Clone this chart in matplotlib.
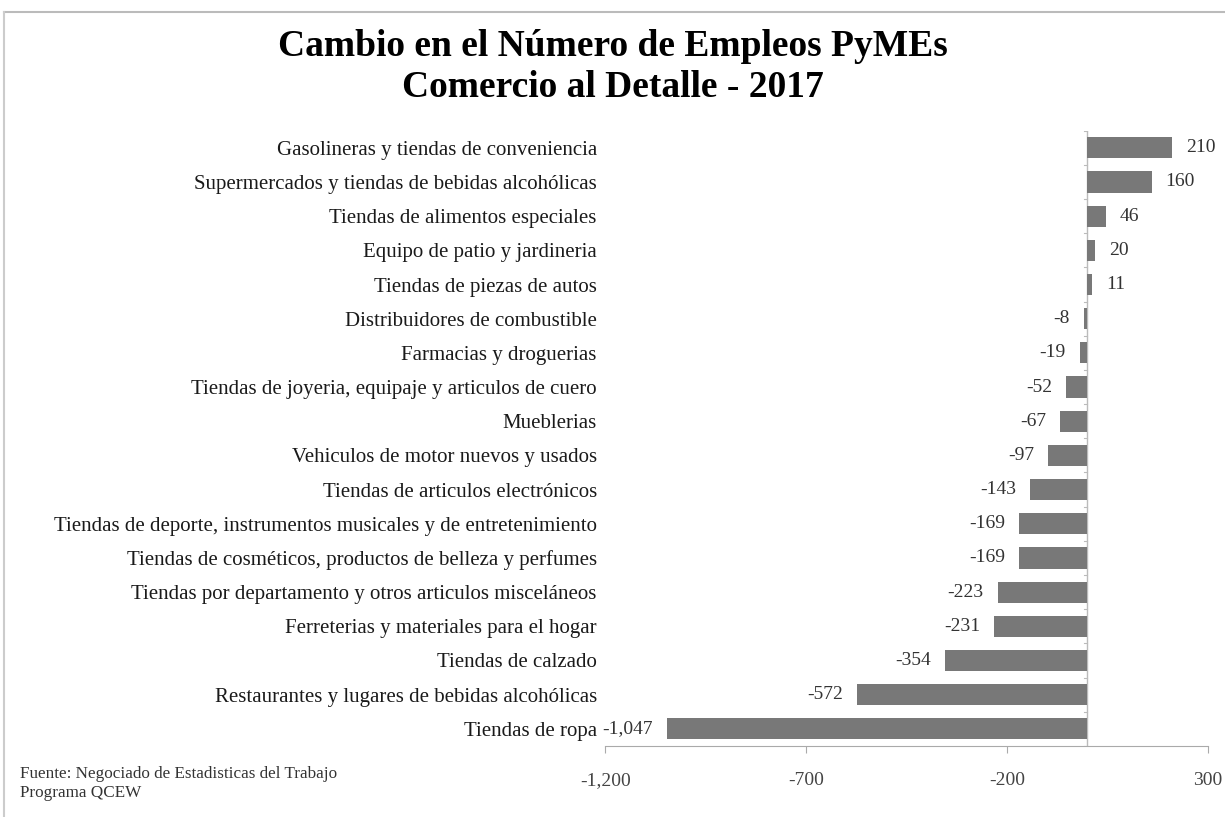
import matplotlib
matplotlib.use("Agg")
import matplotlib.pyplot as plt
from matplotlib.ticker import FuncFormatter

categories = [
    "Gasolineras y tiendas de conveniencia",
    "Supermercados y tiendas de bebidas alcohólicas",
    "Tiendas de alimentos especiales",
    "Equipo de patio y jardineria",
    "Tiendas de piezas de autos",
    "Distribuidores de combustible",
    "Farmacias y droguerias",
    "Tiendas de joyeria, equipaje y articulos de cuero",
    "Mueblerias",
    "Vehiculos de motor nuevos y usados",
    "Tiendas de articulos electrónicos",
    "Tiendas de deporte, instrumentos musicales y de entretenimiento",
    "Tiendas de cosméticos, productos de belleza y perfumes",
    "Tiendas por departamento y otros articulos misceláneos",
    "Ferreterias y materiales para el hogar",
    "Tiendas de calzado",
    "Restaurantes y lugares de bebidas alcohólicas",
    "Tiendas de ropa",
]
values = [210, 160, 46, 20, 11, -8, -19, -52, -67, -97, -143, -169, -169,
          -223, -231, -354, -572, -1047]
x_ticks = [-1200, -700, -200, 300]

title = "Cambio en el Número de Empleos PyMEs\nComercio al Detalle - 2017"
source = "Fuente: Negociado de Estadisticas del Trabajo\nPrograma QCEW"

plt.rcParams['font.family'] = ['Liberation Serif', 'DejaVu Serif']

fig = plt.figure(figsize=(12.25, 8.17), dpi=100)
ax = fig.add_axes([0.494, 0.087, 0.492, 0.753])

ypos = list(range(len(categories)))
bar_color = "#787878"
ax.barh(ypos, values, height=0.62, color=bar_color, zorder=2)
ax.set_ylim(len(categories) - 0.5, -0.5)
ax.set_xlim(x_ticks[0], x_ticks[-1])
ax.set_xticks(x_ticks)
ax.xaxis.set_major_formatter(FuncFormatter(lambda v, p: f"{int(v):,}"))

ax.set_yticks(ypos)
ax.set_yticklabels(categories, fontsize=15, color="#1a1a1a")
ax.tick_params(axis='y', length=0, pad=6)
ax.tick_params(axis='x', length=5, color="#aaaaaa", labelsize=14,
               labelcolor="#444444", pad=14)

for s in ['top', 'right', 'left']:
    ax.spines[s].set_visible(False)
ax.spines['bottom'].set_color("#aaaaaa")

# zero axis line with small tick marks
ax.axvline(0, color="#bbbbbb", lw=1.0, zorder=1)
for y in [i - 0.5 for i in range(len(categories) + 1)]:
    ax.plot([0, -8], [y, y], color="#bbbbbb", lw=0.8, zorder=1)

for y, v in zip(ypos, values):
    txt = f"{v:,}"
    if v >= 0:
        ax.text(v + 35, y, txt, va='center', ha='left', fontsize=14, color="#333333")
    else:
        ax.text(v - 35, y, txt, va='center', ha='right', fontsize=14, color="#333333")

fig.text(0.5, 0.918, title, ha='center', va='center', fontsize=27,
         fontweight='bold', linespacing=1.25)
fig.text(0.016, 0.041, source, ha='left', va='center', fontsize=12.3,
         color="#333333", linespacing=1.3)

# light frame (scan border)
fig.add_artist(plt.Line2D([0.003, 1.0], [0.985, 0.985], transform=fig.transFigure,
                          color="#bbbbbb", lw=1.5))
fig.add_artist(plt.Line2D([0.003, 0.003], [0.0, 0.985], transform=fig.transFigure,
                          color="#cccccc", lw=1.5))

fig.savefig("out.png", dpi=100)
